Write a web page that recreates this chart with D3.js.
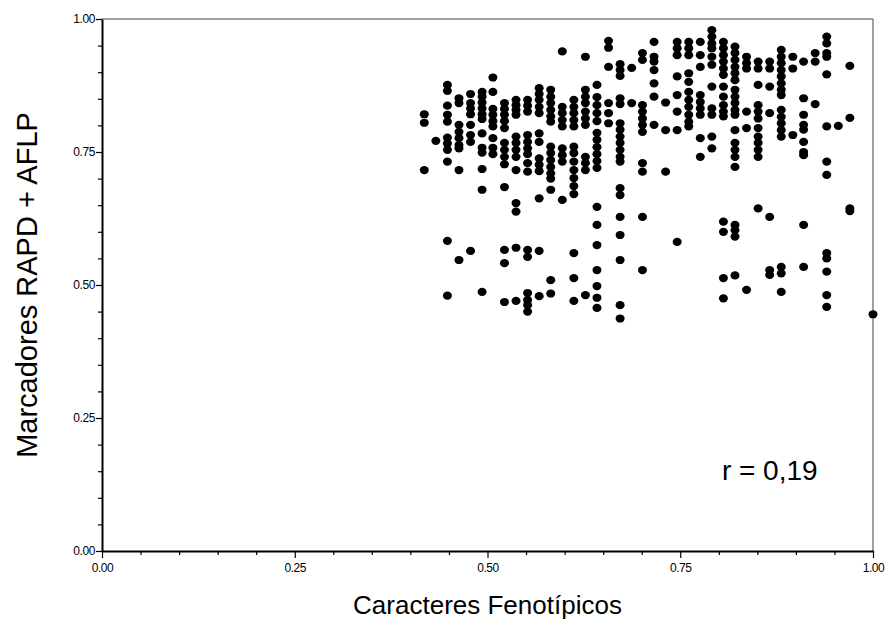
<!DOCTYPE html>
<html>
<head>
<meta charset="utf-8">
<script src="https://cdn.jsdelivr.net/npm/d3@7"></script>
<style>
  body { margin: 0; background: #fff; }
  svg { display: block; font-family: 'Liberation Sans', Arial, sans-serif; }
</style>
</head>
<body>
<div id="chart"></div>
<script>
// x positions of the point columns (phenotypic similarity)
const colX = [
  0.418, 0.433, 0.448, 0.463, 0.478, 0.493, 0.507, 0.522, 0.537, 0.552,
  0.567, 0.582, 0.597, 0.612, 0.627, 0.642, 0.657, 0.672, 0.687, 0.701,
  0.716, 0.731, 0.746, 0.761, 0.776, 0.791, 0.806, 0.821, 0.836, 0.851,
  0.866, 0.881, 0.896, 0.910, 0.925, 0.940, 0.955, 0.970, 1.000
]

// y values (RAPD + AFLP similarity) for each column above
const colY = [
  [0.821, 0.805, 0.716],
  [0.771],
  [0.876, 0.865, 0.837, 0.820, 0.807, 0.777, 0.766, 0.754, 0.732, 0.583, 0.480],
  [0.851, 0.842, 0.801, 0.788, 0.776, 0.763, 0.757, 0.716, 0.547],
  [0.859, 0.842, 0.832, 0.821, 0.801, 0.782, 0.769, 0.564],
  [0.863, 0.854, 0.843, 0.832, 0.821, 0.812, 0.785, 0.758, 0.749, 0.718, 0.679, 0.487],
  [0.890, 0.863, 0.831, 0.820, 0.808, 0.798, 0.776, 0.758, 0.746],
  [0.842, 0.831, 0.820, 0.808, 0.795, 0.767, 0.754, 0.741, 0.727, 0.684, 0.566, 0.541, 0.468],
  [0.848, 0.838, 0.829, 0.820, 0.779, 0.767, 0.754, 0.741, 0.716, 0.654, 0.638, 0.570, 0.470],
  [0.848, 0.837, 0.826, 0.782, 0.769, 0.757, 0.746, 0.729, 0.713, 0.566, 0.553, 0.485, 0.472, 0.462, 0.450],
  [0.870, 0.859, 0.848, 0.835, 0.823, 0.785, 0.769, 0.738, 0.726, 0.714, 0.663, 0.564, 0.479],
  [0.867, 0.854, 0.842, 0.829, 0.817, 0.807, 0.760, 0.748, 0.735, 0.722, 0.710, 0.700, 0.679, 0.509, 0.484],
  [0.939, 0.835, 0.823, 0.810, 0.798, 0.757, 0.744, 0.732, 0.660],
  [0.848, 0.835, 0.823, 0.810, 0.798, 0.760, 0.748, 0.732, 0.716, 0.701, 0.686, 0.671, 0.560, 0.513, 0.470],
  [0.929, 0.867, 0.854, 0.842, 0.826, 0.813, 0.801, 0.741, 0.729, 0.716, 0.481],
  [0.876, 0.853, 0.838, 0.823, 0.808, 0.786, 0.773, 0.759, 0.746, 0.733, 0.720, 0.647, 0.613, 0.575, 0.528, 0.498, 0.476, 0.457],
  [0.959, 0.946, 0.910, 0.842, 0.823, 0.804],
  [0.915, 0.904, 0.893, 0.851, 0.840, 0.804, 0.792, 0.779, 0.767, 0.754, 0.741, 0.732, 0.682, 0.669, 0.628, 0.594, 0.547, 0.462, 0.437],
  [0.908, 0.842],
  [0.936, 0.923, 0.838, 0.826, 0.813, 0.801, 0.788, 0.729, 0.713, 0.628, 0.528],
  [0.957, 0.929, 0.920, 0.904, 0.879, 0.854, 0.801],
  [0.843, 0.791, 0.713],
  [0.957, 0.945, 0.932, 0.892, 0.857, 0.826, 0.791, 0.581],
  [0.957, 0.945, 0.932, 0.898, 0.882, 0.863, 0.848, 0.835, 0.820, 0.807, 0.798],
  [0.957, 0.932, 0.910, 0.857, 0.844, 0.832, 0.820, 0.776, 0.741],
  [0.979, 0.967, 0.954, 0.945, 0.929, 0.914, 0.873, 0.832, 0.820, 0.779, 0.757],
  [0.957, 0.945, 0.932, 0.920, 0.907, 0.895, 0.873, 0.854, 0.838, 0.826, 0.817, 0.619, 0.600, 0.513, 0.475],
  [0.948, 0.936, 0.923, 0.910, 0.898, 0.885, 0.867, 0.854, 0.842, 0.829, 0.820, 0.791, 0.767, 0.754, 0.741, 0.722, 0.613, 0.603, 0.591, 0.518],
  [0.929, 0.917, 0.907, 0.826, 0.795, 0.491],
  [0.920, 0.907, 0.876, 0.838, 0.826, 0.813, 0.795, 0.779, 0.767, 0.754, 0.741, 0.644],
  [0.920, 0.907, 0.873, 0.823, 0.628, 0.528, 0.519],
  [0.942, 0.929, 0.917, 0.904, 0.892, 0.879, 0.867, 0.857, 0.829, 0.816, 0.804, 0.791, 0.779, 0.534, 0.522, 0.487],
  [0.929, 0.907, 0.782],
  [0.920, 0.851, 0.820, 0.801, 0.792, 0.769, 0.750, 0.744, 0.613, 0.534],
  [0.936, 0.920, 0.840],
  [0.967, 0.954, 0.936, 0.929, 0.896, 0.798, 0.732, 0.707, 0.560, 0.550, 0.525, 0.481, 0.459],
  [0.799],
  [0.912, 0.814, 0.644, 0.639],
  [0.445]
]

const majorTicks = [0, 0.25, 0.5, 0.75, 1]
const minorTicks = [0.05, 0.1, 0.15, 0.2, 0.3, 0.35, 0.4, 0.45, 0.55, 0.6, 0.65, 0.7, 0.8, 0.85, 0.9, 0.95]
const xTitle = 'Caracteres Fenotípicos'
const yTitle = 'Marcadores RAPD + AFLP'
const note = 'r = 0,19'

const margin = { top: 19, right: 18, bottom: 70, left: 102 }
const W = 891
const H = 621
const width = W - margin.left - margin.right
const height = H - margin.top - margin.bottom

const svg = d3.select('#chart')
  .append('svg')
  .attr('width', W)
  .attr('height', H)

const g = svg.append('g')
  .attr('transform', 'translate(' + margin.left + ',' + margin.top + ')')

const x = d3.scaleLinear().domain([0, 1]).range([0, width])
const y = d3.scaleLinear().domain([0, 1]).range([height, 0])

const points = []
colX.forEach((cx, i) => {
  colY[i].forEach(v => points.push({ x: cx, y: v }))
})

// frame: top and right in grey
g.append('line')
  .attr('x1', 0).attr('x2', width).attr('y1', 0).attr('y2', 0)
  .attr('stroke', '#808080').attr('stroke-width', 1.5)
g.append('line')
  .attr('x1', width).attr('x2', width).attr('y1', 0).attr('y2', height)
  .attr('stroke', '#808080').attr('stroke-width', 1.5)

// minor ticks
g.append('g')
  .attr('transform', 'translate(0,' + height + ')')
  .call(d3.axisBottom(x).tickValues(minorTicks).tickSize(4).tickFormat(''))
  .call(a => a.select('.domain').remove())
g.append('g')
  .call(d3.axisLeft(y).tickValues(minorTicks).tickSize(4).tickFormat(''))
  .call(a => a.select('.domain').remove())

g.append('g')
  .attr('transform', 'translate(0,' + height + ')')
  .call(d3.axisBottom(x).tickValues(majorTicks).tickSize(7).tickSizeOuter(0)
    .tickPadding(5).tickFormat(d3.format('.2f')))
g.append('g')
  .call(d3.axisLeft(y).tickValues(majorTicks).tickSize(6).tickSizeOuter(0)
    .tickPadding(1).tickFormat(d3.format('.2f')))

svg.selectAll('.tick line').attr('stroke', '#000').attr('stroke-width', 1.2)
svg.selectAll('.domain').attr('stroke', '#000').attr('stroke-width', 2)
svg.selectAll('.tick text')
  .attr('font-family', "'Liberation Sans', Arial, sans-serif")
  .attr('font-size', 12)
  .attr('letter-spacing', -0.4)
  .attr('fill', '#000')

g.selectAll('.dot')
  .data(points)
  .enter()
  .append('ellipse')
  .attr('class', 'dot')
  .attr('cx', d => x(d.x))
  .attr('cy', d => y(d.y))
  .attr('rx', 4.5)
  .attr('ry', 4.1)
  .attr('fill', '#000')

g.append('text')
  .attr('x', width / 2)
  .attr('y', height + 63)
  .attr('text-anchor', 'middle')
  .attr('font-size', 26)
  .text(xTitle)

g.append('text')
  .attr('transform', 'translate(' + (-65) + ',' + (height / 2) + ') rotate(-90)')
  .attr('text-anchor', 'middle')
  .attr('font-size', 29)
  .text(yTitle)

g.append('text')
  .attr('x', x(0.804))
  .attr('y', y(0.134))
  .attr('font-size', 28)
  .text(note)
</script>
</body>
</html>
